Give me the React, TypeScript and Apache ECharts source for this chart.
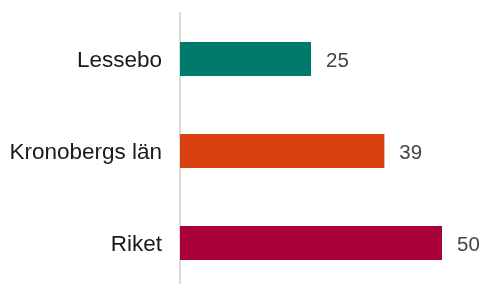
import React, { useEffect, useRef } from "react";
import * as echarts from "echarts";

const categories = ["Lessebo", "Kronobergs län", "Riket"];
const values = [25, 39, 50];
const colors = ["#007A6A", "#D9400F", "#A8003A"];

export default function App() {
  const ref = useRef<HTMLDivElement>(null);
  useEffect(() => {
    if (!ref.current) return;
    const chart = echarts.init(ref.current, undefined, { renderer: "svg" });
    chart.setOption({
      animation: false,
      grid: { left: 180, right: 15.8, top: 13, bottom: 1 },
      xAxis: {
        type: "value",
        min: 0,
        max: 55,
        show: false,
      },
      yAxis: {
        type: "category",
        data: categories,
        inverse: true,
        axisLine: { show: true, lineStyle: { color: "#d9d9d9", width: 2 } },
        axisTick: { show: false },
        axisLabel: {
          color: "#1a1a1a",
          fontSize: 22.5,
          fontFamily: "Liberation Sans, Arial, sans-serif",
          margin: 18,
        },
      },
      series: [
        {
          type: "bar",
          barWidth: 34,
          data: values.map((v, i) => ({ value: v, itemStyle: { color: colors[i] } })),
          label: {
            show: true,
            position: "right",
            distance: 15,
            color: "#444",
            fontSize: 20.5,
            fontFamily: "Liberation Sans, Arial, sans-serif",
          },
        },
      ],
    });
    return () => chart.dispose();
  }, []);
  return (
    <div
      ref={ref}
      style={{ position: "fixed", left: 0, top: 0, width: 484, height: 290 }}
    />
  );
}
